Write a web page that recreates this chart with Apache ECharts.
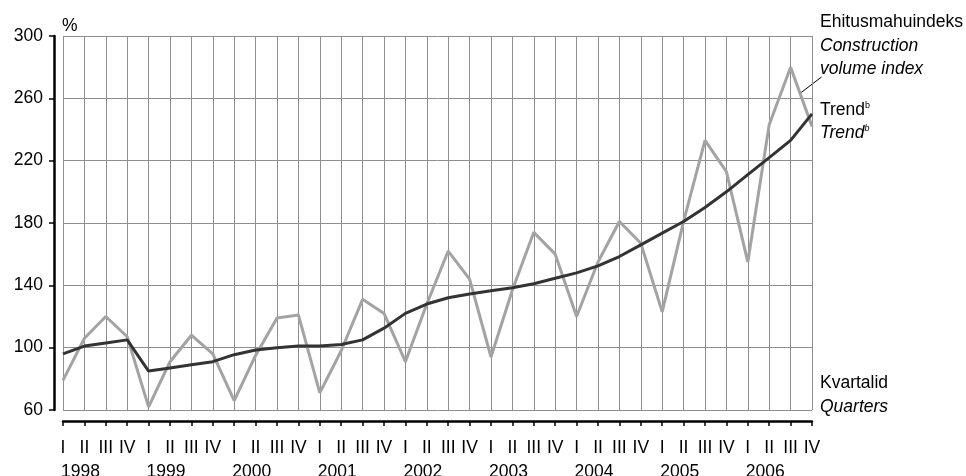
<!DOCTYPE html>
<html>
<head>
<meta charset="utf-8">
<script src="https://cdn.jsdelivr.net/npm/echarts@6/dist/echarts.min.js"></script>
<style>
  html, body { margin: 0; padding: 0; background: #fff; }
  #main { width: 966px; height: 476px; }
</style>
</head>
<body>
<div id="main"></div>
<script>
// andmed: kvartalid 1998 I ... 2006 IV
var years = ['1998', '1999', '2000', '2001', '2002', '2003', '2004', '2005', '2006'];
var quarterNames = ['I', 'II', 'III', 'IV'];
// ehitusmahuindeks / construction volume index
var volumeIndex = [79, 106, 120, 107, 62, 91, 108, 96, 66, 95, 119, 121, 71, 98, 131, 122, 91, 128,
    162, 144, 94, 137, 174, 160, 120, 155, 181, 167, 123, 181, 233, 213, 155, 243, 280, 242];
// trend
var trendValues = [96, 101, 103, 105, 85, 87, 89, 91, 95.5, 98.5, 100, 101, 101, 102, 105, 112.5, 122, 128,
    132, 134.5, 136.5, 138.5, 141, 144.5, 148, 152.5, 158.5, 166, 173.5, 181, 190, 200, 211, 222, 233, 250];

// kategooriad
var categories = [];
for (var i = 0; i < years.length; i++) {
    for (var q = 0; q < quarterNames.length; q++) {
        categories.push(years[i] + ' ' + quarterNames[q]);
    }
}

var font = 'Liberation Sans, Arial, sans-serif';
var fs = 17.5;
var gridColor = '#8e8e8e';

var myChart = echarts.init(document.getElementById('main'));

var option = {
    animation: false,
    backgroundColor: '#fff',
    grid: { left: 63, right: 154, top: 36, bottom: 66, containLabel: false, outerBoundsMode: 'none' },
    xAxis: [
        {
            type: 'category',
            data: categories,
            boundaryGap: false,
            position: 'bottom',
            offset: 11,
            axisLine: { show: true, lineStyle: { color: '#000', width: 2.5 } },
            axisTick: { show: true, interval: 0, length: 5, lineStyle: { color: '#000', width: 1.5 } },
            axisLabel: {
                interval: 0, margin: 18, color: '#000', fontSize: fs, fontFamily: font,
                formatter: function (v) { return v.split(' ')[1]; }
            },
            splitLine: { show: true, interval: 0, lineStyle: { color: gridColor, width: 1 } }
        },
        {
            type: 'category',
            data: categories,
            boundaryGap: false,
            position: 'bottom',
            offset: 11,
            axisLine: { show: false },
            axisTick: { show: false },
            splitLine: { show: false },
            axisLabel: {
                interval: 0, margin: 42, color: '#000', fontSize: fs, fontFamily: font, align: 'left',
                padding: [0, 0, 0, -2],
                formatter: function (v) {
                    var p = v.split(' ');
                    return p[1] === 'I' ? p[0] : '';
                }
            }
        }
    ],
    yAxis: {
        type: 'value',
        min: 60,
        max: 300,
        interval: 40,
        offset: 9,
        axisLine: { show: true, lineStyle: { color: '#000', width: 2.5 } },
        axisTick: { show: true, length: 5, lineStyle: { color: '#000', width: 1.5 } },
        axisLabel: { margin: 11, color: '#000', fontSize: fs, fontFamily: font },
        splitLine: { show: true, lineStyle: { color: gridColor, width: 1 } }
    },
    series: [
        {
            name: 'Ehitusmahuindeks',
            type: 'line',
            data: volumeIndex,
            symbol: 'none',
            lineStyle: { color: '#a3a3a3', width: 3 },
            z: 3
        },
        {
            name: 'Trend',
            type: 'line',
            data: trendValues,
            symbol: 'none',
            lineStyle: { color: '#333333', width: 3 },
            z: 4
        }
    ],
    graphic: [
        { type: 'text', left: 62, top: 17, style: { text: '%', fill: '#000', font: fs + 'px ' + font } },
        { type: 'text', left: 820, top: 13, style: { text: 'Ehitusmahuindeks', fill: '#000', font: fs + 'px ' + font } },
        { type: 'text', left: 820, top: 37, style: { text: 'Construction', fill: '#000', font: 'italic ' + fs + 'px ' + font } },
        { type: 'text', left: 820, top: 60, style: { text: 'volume index', fill: '#000', font: 'italic ' + fs + 'px ' + font } },
        {
            type: 'line',
            shape: { x1: 821.5, y1: 77, x2: 800.5, y2: 93 },
            style: { stroke: '#000', lineWidth: 1 }
        },
        {
            type: 'text', left: 820, top: 101,
            style: {
                text: 'Trend{sup|b}', fill: '#000', font: fs + 'px ' + font,
                rich: { sup: { fontSize: 9, fontFamily: font, verticalAlign: 'top', fill: '#000' } }
            }
        },
        {
            type: 'text', left: 820, top: 124,
            style: {
                text: 'Trend{sup|b}', fill: '#000', font: 'italic ' + fs + 'px ' + font,
                rich: { sup: { fontSize: 9, fontFamily: font, fontStyle: 'italic', verticalAlign: 'top', fill: '#000' } }
            }
        },
        { type: 'text', left: 820, top: 374, style: { text: 'Kvartalid', fill: '#000', font: fs + 'px ' + font } },
        { type: 'text', left: 820, top: 398, style: { text: 'Quarters', fill: '#000', font: 'italic ' + fs + 'px ' + font } }
    ]
};

myChart.setOption(option);
</script>
</body>
</html>
